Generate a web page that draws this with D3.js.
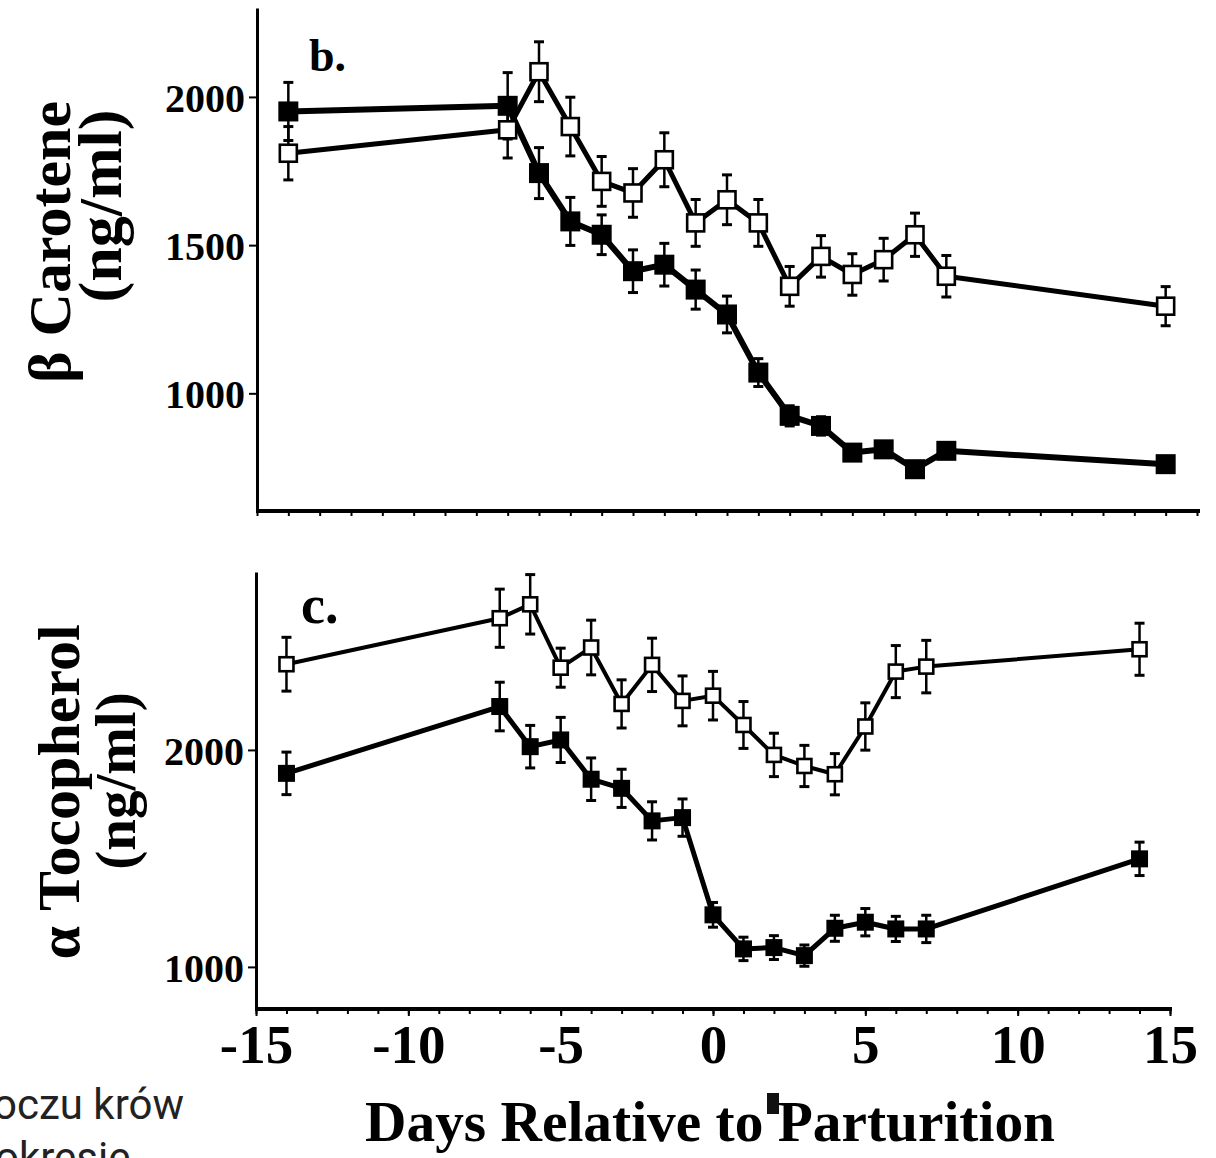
<!DOCTYPE html>
<html>
<head>
<meta charset="utf-8">
<script src="https://cdn.jsdelivr.net/npm/d3@7"></script>
<style>
  html, body { margin: 0; padding: 0; background: #fff; overflow: hidden; }
  svg { display: block; }
</style>
</head>
<body>
<svg id="chart" width="1216" height="1158"></svg>
<script>
// ---- data ----
const days = [-14, -7, -6, -5, -4, -3, -2, -1, 0, 1, 2, 3, 4, 5, 6, 7, 14];

const caroteneOpen      = [1810, 1889, 2085, 1900, 1715, 1676, 1788, 1575, 1653, 1575, 1361, 1462, 1401, 1451, 1535, 1395, 1294];
const caroteneOpenErr   = [90, 95, 101, 99, 84, 82, 91, 79, 84, 79, 67, 70, 70, 72, 73, 70, 66];
const caroteneFilled    = [1951, 1970, 1743, 1580, 1535, 1412, 1434, 1350, 1266, 1070, 924, 890, 800, 811, 744, 806, 761];
const caroteneFilledErr = [98, 112, 86, 81, 67, 72, 72, 66, 62, 47, 34, 31, 20, 20, 20, 20, 20];

const tocoOpen      = [2395, 2607, 2671, 2379, 2472, 2212, 2392, 2226, 2250, 2115, 1977, 1926, 1888, 2108, 2361, 2384, 2464];
const tocoOpenErr   = [124, 134, 137, 90, 126, 111, 123, 115, 112, 108, 100, 95, 95, 109, 120, 121, 120];
const tocoFilled    = [1892, 2200, 2015, 2046, 1865, 1823, 1673, 1688, 1240, 1083, 1089, 1052, 1178, 1206, 1175, 1175, 1498];
const tocoFilledErr = [98, 112, 98, 104, 98, 88, 88, 86, 57, 54, 55, 49, 60, 63, 58, 63, 77];

const caroteneTicks = [1000, 1500, 2000];
const tocoTicks = [1000, 2000];
const xLabelTicks = [-15, -10, -5, 0, 5, 10, 15];
const xMinorTicks = d3.range(-15, 16);

const SERIF = "'Liberation Serif', 'Times New Roman', 'DejaVu Serif', serif";

const svg = d3.select("#chart");

// ---- scales ----
const topX = d3.scaleLinear().domain([-15, 15]).range([257, 1197]);
const topY = d3.scaleLinear().domain([603, 2300]).range([511, 8]);
const botX = d3.scaleLinear().domain([-15, 15]).range([256, 1170]);
const botY = d3.scaleLinear().domain([806, 2820]).range([1009, 572]);

function drawPanel(x, y, opt) {
  const g = svg.append("g");

  // y axis
  const ya = g.append("g")
    .attr("transform", `translate(${x.range()[0]},0)`)
    .call(d3.axisLeft(y).tickValues(opt.yTicks).tickSize(8).tickSizeOuter(0).tickPadding(4).tickFormat(d3.format("d")));
  ya.select(".domain").attr("stroke", "#000").attr("stroke-width", 3);
  ya.selectAll(".tick line").attr("stroke", "#000").attr("stroke-width", 2);
  ya.selectAll(".tick text")
    .attr("fill", "#000")
    .style("font-family", SERIF).style("font-weight", "bold").style("font-size", "40px")
    .attr("dy", "0.36em");

  // x axis: minor day ticks
  const y0 = y.range()[0];
  const xm = g.append("g")
    .attr("transform", `translate(0,${y0})`)
    .call(d3.axisBottom(x).tickValues(xMinorTicks).tickSize(5).tickSizeOuter(0).tickFormat(""));
  xm.select(".domain").attr("stroke", "#000").attr("stroke-width", 4)
    .attr("d", `M${x.range()[0] - 1},0H${x.range()[1] + opt.xExtra}`);
  xm.selectAll(".tick line").attr("stroke", "#000").attr("stroke-width", 2);

  if (opt.xLabels) {
    const xl = g.append("g")
      .attr("transform", `translate(0,${y0})`)
      .call(d3.axisBottom(x).tickValues(xLabelTicks).tickSize(7).tickPadding(8).tickFormat(d => String(d)));
    xl.select(".domain").remove();
    xl.selectAll(".tick line").attr("stroke", "#000").attr("stroke-width", 2);
    xl.selectAll(".tick text")
      .attr("fill", "#000")
      .style("font-family", SERIF).style("font-weight", "bold").style("font-size", "55px");
  }

  const line = d3.line().x((d, i) => x(days[i])).y(d => y(d));

  // connecting lines
  g.append("path").datum(opt.open)
    .attr("d", line).attr("fill", "none").attr("stroke", "#000")
    .attr("stroke-width", opt.lwOpen).attr("stroke-linejoin", "round");
  g.append("path").datum(opt.filled)
    .attr("d", line).attr("fill", "none").attr("stroke", "#000")
    .attr("stroke-width", opt.lwFilled).attr("stroke-linejoin", "round");

  // error bars
  function errorBars(vals, errs) {
    const eg = g.append("g");
    vals.forEach((v, i) => {
      const cx = x(days[i]);
      const yt = y(v + errs[i]), yb = y(v - errs[i]);
      eg.append("line").attr("x1", cx).attr("x2", cx).attr("y1", yt).attr("y2", yb)
        .attr("stroke", "#000").attr("stroke-width", 2.5);
      [yt, yb].forEach(yy => {
        eg.append("line").attr("x1", cx - 5).attr("x2", cx + 5).attr("y1", yy).attr("y2", yy)
          .attr("stroke", "#000").attr("stroke-width", 3);
      });
    });
  }
  errorBars(opt.open, opt.openErr);
  errorBars(opt.filled, opt.filledErr);

  // markers
  const so = opt.sizeOpen, sf = opt.sizeFilled;
  g.append("g").selectAll("rect").data(opt.open).join("rect")
    .attr("x", (d, i) => x(days[i]) - so / 2).attr("y", d => y(d) - so / 2)
    .attr("width", so).attr("height", so)
    .attr("fill", "#fff").attr("stroke", "#000").attr("stroke-width", 2.6);
  g.append("g").selectAll("rect").data(opt.filled).join("rect")
    .attr("x", (d, i) => x(days[i]) - sf / 2).attr("y", d => y(d) - sf / 2)
    .attr("width", sf).attr("height", sf)
    .attr("fill", "#000");

  return g;
}

drawPanel(topX, topY, {
  yTicks: caroteneTicks, xLabels: false, xExtra: 3,
  open: caroteneOpen, openErr: caroteneOpenErr,
  filled: caroteneFilled, filledErr: caroteneFilledErr,
  lwOpen: 5, lwFilled: 6, sizeOpen: 17, sizeFilled: 20
});

drawPanel(botX, botY, {
  yTicks: tocoTicks, xLabels: true, xExtra: 2,
  open: tocoOpen, openErr: tocoOpenErr,
  filled: tocoFilled, filledErr: tocoFilledErr,
  lwOpen: 4, lwFilled: 5, sizeOpen: 14, sizeFilled: 17
});

// ---- text ----
function serifText(txt, x, y, size, rot, anchor) {
  return svg.append("text")
    .attr("transform", `translate(${x},${y})` + (rot ? ` rotate(${rot})` : ""))
    .attr("text-anchor", anchor || "start")
    .style("font-family", SERIF).style("font-weight", "bold").style("font-size", size + "px")
    .attr("fill", "#000").text(txt);
}

serifText("β Carotene", 70, 242, 60, -90, "middle");
serifText("(ng/ml)", 121, 206, 62, -90, "middle");
serifText("α Tocopherol", 79, 792, 60, -90, "middle");
serifText("(ng/ml)", 135, 781, 57, -90, "middle");

serifText("b.", 309, 71, 46, 0, "start");
serifText("c.", 301, 623, 54, 0, "start");

serifText("Days Relative to Parturition", 365, 1141, 56, 0, "start")
  .attr("textLength", 690).attr("lengthAdjust", "spacingAndGlyphs");

// small black block from the scan
svg.append("rect").attr("x", 767).attr("y", 1093).attr("width", 12).attr("height", 21).attr("fill", "#111");

// page text at the lower left, cut by the picture's edges as in the reference
svg.append("text").attr("x", -7).attr("y", 1119)
  .style("font-family", "Roboto, 'Liberation Sans', sans-serif").style("font-size", "42px")
  .attr("fill", "#222").text("oczu krów");
svg.append("text").attr("x", -5).attr("y", 1172)
  .style("font-family", "Roboto, 'Liberation Sans', sans-serif").style("font-size", "42px")
  .attr("fill", "#222").text("okresie");
</script>
</body>
</html>
